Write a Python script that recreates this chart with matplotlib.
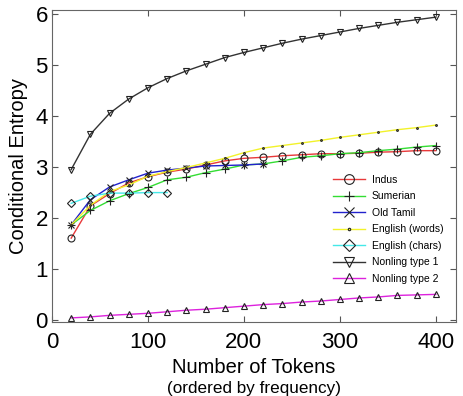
import matplotlib
matplotlib.use("Agg")
import matplotlib.pyplot as plt

plt.rcParams['font.family'] = ['Liberation Sans', 'DejaVu Sans']

tokens = [20, 40, 60, 80, 100, 120, 140, 160, 180, 200, 220, 240, 260, 280, 300, 320, 340, 360, 380, 400]
indus = [1.61, 2.24, 2.48, 2.69, 2.81, 2.90, 2.96, 3.04, 3.12, 3.17, 3.19, 3.22, 3.24, 3.26, 3.26, 3.27, 3.29, 3.30, 3.32, 3.32]
sumerian = [1.87, 2.15, 2.34, 2.48, 2.60, 2.75, 2.80, 2.89, 2.96, 3.04, 3.06, 3.12, 3.19, 3.22, 3.26, 3.28, 3.32, 3.35, 3.39, 3.42]
old_tamil = [1.87, 2.36, 2.61, 2.75, 2.88, 2.94, 2.98, 3.02, 3.03, 3.04, 3.06]
english_words = [1.87, 2.25, 2.52, 2.65, 2.82, 2.91, 2.99, 3.08, 3.17, 3.28, 3.37, 3.42, 3.47, 3.52, 3.58, 3.63, 3.68, 3.73, 3.77, 3.82]
english_chars = [2.29, 2.43, 2.49, 2.49, 2.50, 2.50]
nonling1 = [2.95, 3.64, 4.05, 4.33, 4.55, 4.73, 4.88, 5.01, 5.14, 5.24, 5.33, 5.42, 5.50, 5.57, 5.64, 5.71, 5.77, 5.83, 5.88, 5.93]
nonling2 = [0.05, 0.07, 0.10, 0.12, 0.14, 0.17, 0.20, 0.22, 0.25, 0.28, 0.31, 0.33, 0.36, 0.38, 0.41, 0.44, 0.46, 0.49, 0.50, 0.51]

series = [
    ("Indus", indus, "#e8393a", "o", 5),
    ("Sumerian", sumerian, "#33dd33", "+", 5.5),
    ("Old Tamil", old_tamil, "#2222cc", "x", 5),
    ("English (words)", english_words, "#f2f22a", ".", 2.5),
    ("English (chars)", english_chars, "#44e8e8", "D", 4.5),
    ("Nonling type 1", nonling1, "#333333", "v", 5),
    ("Nonling type 2", nonling2, "#dd22dd", "^", 5),
]

fig = plt.figure(figsize=(4.64, 3.96), dpi=100)
ax = fig.add_axes([52/464, 1-322/396, (456-52)/464, (322-10)/396])

for name, vals, col, mk, ms in series:
    ax.plot(tokens[:len(vals)], vals, color=col, lw=1.0, marker=mk, ms=ms,
            mec='#222222', mfc='none', mew=0.8, label=name)

ax.set_xlim(0, 421)
ax.set_ylim(-0.03, 6.07)
ax.set_xticks([0, 100, 200, 300, 400])
ax.set_yticks([0, 1, 2, 3, 4, 5, 6])
ax.tick_params(direction='in', labelsize=16, top=True, right=True, length=4, color='#555555')
ax.tick_params(axis='x', pad=7)
ax.tick_params(axis='y', pad=3)
for s in ax.spines.values():
    s.set_color('#666666')
ax.set_ylabel("Conditional Entropy", fontsize=14.5, labelpad=5)
ax.set_xlabel("Number of Tokens", fontsize=14.5, labelpad=4)
fig.text((52+456)/2/464, 1-388/396, "(ordered by frequency)", fontsize=12.3, ha='center', va='center')

leg = ax.legend(loc='upper left', bbox_to_anchor=(333/464, 1-175/396), bbox_transform=fig.transFigure,
                frameon=False, fontsize=7.5, borderpad=0, borderaxespad=0,
                handlelength=3.1, labelspacing=0.62, handletextpad=0.6, markerscale=1.4)

fig.savefig("out.png", dpi=100)
